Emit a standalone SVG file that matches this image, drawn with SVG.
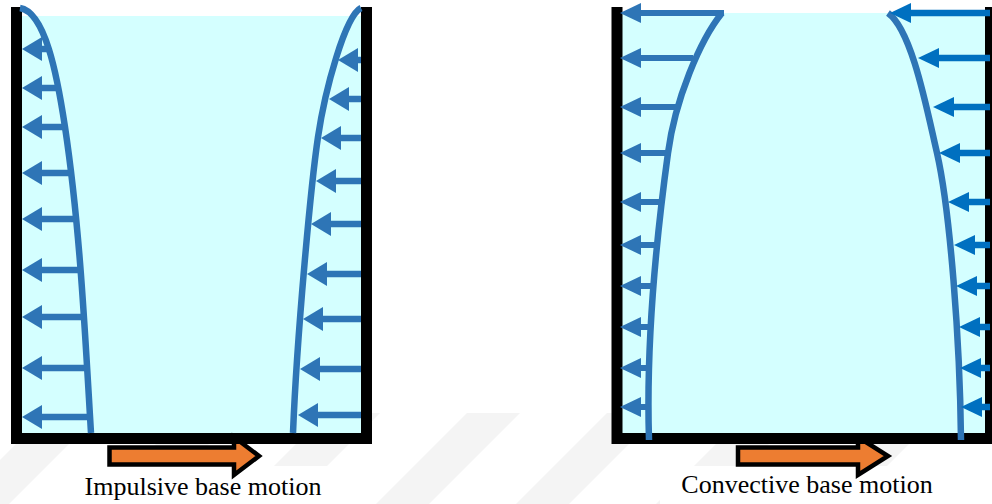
<svg xmlns="http://www.w3.org/2000/svg" width="992" height="504" viewBox="0 0 992 504">
  <style>
    .wm { fill: #f4f4f4; }
    .fluid { fill: #d4ffff; }
    .wall { fill: none; stroke: #000; stroke-width: 11; stroke-linejoin: miter; }
    .curve { fill: none; stroke: #2e75b6; stroke-width: 6.5; }
    .shaftA { stroke: #2e75b6; stroke-width: 6.5; marker-end: url(#mA); }
    .shaftB { stroke: #2e75b6; stroke-width: 6; marker-end: url(#mB); }
    .shaftC { stroke: #0070c0; stroke-width: 6.5; marker-end: url(#mC); }
    .base { fill: #ed7d31; stroke: #000; stroke-width: 4.5; stroke-linejoin: miter; }
    .label { font-family: "Liberation Serif", "Times New Roman", serif; font-size: 26px; fill: #000; text-anchor: middle; }
  </style>
  <defs>
    <marker id="mA" markerUnits="userSpaceOnUse" markerWidth="20" markerHeight="24" viewBox="0 0 20 24" refX="1" refY="12" orient="auto" overflow="visible">
      <path d="M0,0 L20,12 L0,24 Z" fill="#2e75b6"/>
    </marker>
    <marker id="mB" markerUnits="userSpaceOnUse" markerWidth="21" markerHeight="20" viewBox="0 0 21 20" refX="1" refY="10" orient="auto" overflow="visible">
      <path d="M0,0 L21,10 L0,20 Z" fill="#2e75b6"/>
    </marker>
    <marker id="mC" markerUnits="userSpaceOnUse" markerWidth="21" markerHeight="20" viewBox="0 0 21 20" refX="1" refY="10" orient="auto" overflow="visible">
      <path d="M0,0 L21,10 L0,20 Z" fill="#0070c0"/>
    </marker>
  </defs>

  <rect width="992" height="504" fill="#fff"/>

  <g id="watermark">
    <polygon class="wm" points="47,413 100,413 9,504 -44,504"/>
    <polygon class="wm" points="187,413 240,413 149,504 96,504"/>
    <polygon class="wm" points="327,413 380,413 289,504 236,504"/>
    <polygon class="wm" points="467,413 520,413 429,504 376,504"/>
    <polygon class="wm" points="607,413 660,413 569,504 516,504"/>
    <polygon class="wm" points="747,413 800,413 709,504 656,504"/>
    <polygon class="wm" points="887,413 940,413 849,504 796,504"/>
    <rect x="60" y="466" width="290" height="38" fill="#fff"/>
    <rect x="660" y="466" width="295" height="38" fill="#fff"/>
  </g>

  <g id="impulsive-tank">
    <rect class="fluid" x="22" y="16" width="339" height="418"/>
    <polygon class="base" points="109.5,447.5 234,447.5 234,437 259,456 234,475 234,464.5 109.5,464.5"/>
    <path class="wall" d="M16.5,7 V438.5 H366.5 V7"/>
    <path class="curve" d="M20,8 C45,12 57,74 65,127 C80,227 85,333 91,433"/>
    <path class="curve" d="M361,8 C345,16 325,90 318,137 C311,184 297,334 293,433"/>
  </g>

  <g id="convective-tank">
    <rect class="fluid" x="622" y="13" width="363" height="421"/>
    <polygon class="base" points="738,447.5 858,447.5 858,437 888,456 858,475 858,464.5 738,464.5"/>
    <path class="wall" d="M617,7 V438.5 H990.5 V7"/>
    <path class="curve" d="M722,13 C700,40 675,100 668,153 C657,233 646,345 649,440"/>
    <path class="curve" d="M888,13 C912,30 927,110 937,153 C950,210 960,340 961,440"/>
  </g>

  <g id="connectors">
    <g id="impulsive-left-arrows">
      <line class="shaftA" x1="51" y1="49" x2="41" y2="49"/>
      <line class="shaftA" x1="58" y1="88" x2="41" y2="88"/>
      <line class="shaftA" x1="65" y1="127" x2="41" y2="127"/>
      <line class="shaftA" x1="71" y1="173" x2="41" y2="173"/>
      <line class="shaftA" x1="76" y1="219" x2="41" y2="219"/>
      <line class="shaftA" x1="81" y1="270" x2="41" y2="270"/>
      <line class="shaftA" x1="84" y1="317" x2="41" y2="317"/>
      <line class="shaftA" x1="87" y1="368" x2="41" y2="368"/>
      <line class="shaftA" x1="90" y1="417" x2="41" y2="417"/>
    </g>
    <g id="impulsive-right-arrows">
      <line class="shaftA" x1="361" y1="60" x2="357" y2="60"/>
      <line class="shaftA" x1="361" y1="99" x2="348" y2="99"/>
      <line class="shaftA" x1="361" y1="138" x2="340" y2="138"/>
      <line class="shaftA" x1="361" y1="181" x2="335" y2="181"/>
      <line class="shaftA" x1="361" y1="224" x2="330" y2="224"/>
      <line class="shaftA" x1="361" y1="274" x2="326" y2="274"/>
      <line class="shaftA" x1="361" y1="319" x2="322" y2="319"/>
      <line class="shaftA" x1="361" y1="369" x2="319" y2="369"/>
      <line class="shaftA" x1="361" y1="415" x2="317" y2="415"/>
    </g>
    <g id="convective-left-arrows">
      <line class="shaftB" x1="724" y1="13" x2="640" y2="13"/>
      <line class="shaftB" x1="693" y1="58" x2="640" y2="58"/>
      <line class="shaftB" x1="679" y1="107" x2="640" y2="107"/>
      <line class="shaftB" x1="669" y1="153" x2="640" y2="153"/>
      <line class="shaftB" x1="661" y1="202" x2="640" y2="202"/>
      <line class="shaftB" x1="655" y1="245" x2="640" y2="245"/>
      <line class="shaftB" x1="652" y1="286" x2="640" y2="286"/>
      <line class="shaftB" x1="649" y1="327" x2="640" y2="327"/>
      <line class="shaftB" x1="648" y1="368" x2="640" y2="368"/>
      <line class="shaftB" x1="647" y1="407" x2="640" y2="407"/>
    </g>
    <g id="convective-right-arrows">
      <line class="shaftC" x1="990" y1="13" x2="910" y2="13"/>
      <line class="shaftC" x1="990" y1="58" x2="938" y2="58"/>
      <line class="shaftC" x1="990" y1="107" x2="953" y2="107"/>
      <line class="shaftC" x1="990" y1="153" x2="959" y2="153"/>
      <line class="shaftC" x1="990" y1="202" x2="968" y2="202"/>
      <line class="shaftC" x1="990" y1="245" x2="974" y2="245"/>
      <line class="shaftC" x1="990" y1="286" x2="976" y2="286"/>
      <line class="shaftC" x1="990" y1="327" x2="979" y2="327"/>
      <line class="shaftC" x1="990" y1="368" x2="980" y2="368"/>
      <line class="shaftC" x1="990" y1="407" x2="981" y2="407"/>
    </g>
  </g>

  <g id="labels">
    <text class="label" x="203" y="495">Impulsive base motion</text>
    <text class="label" x="807" y="493">Convective base motion</text>
  </g>
</svg>
